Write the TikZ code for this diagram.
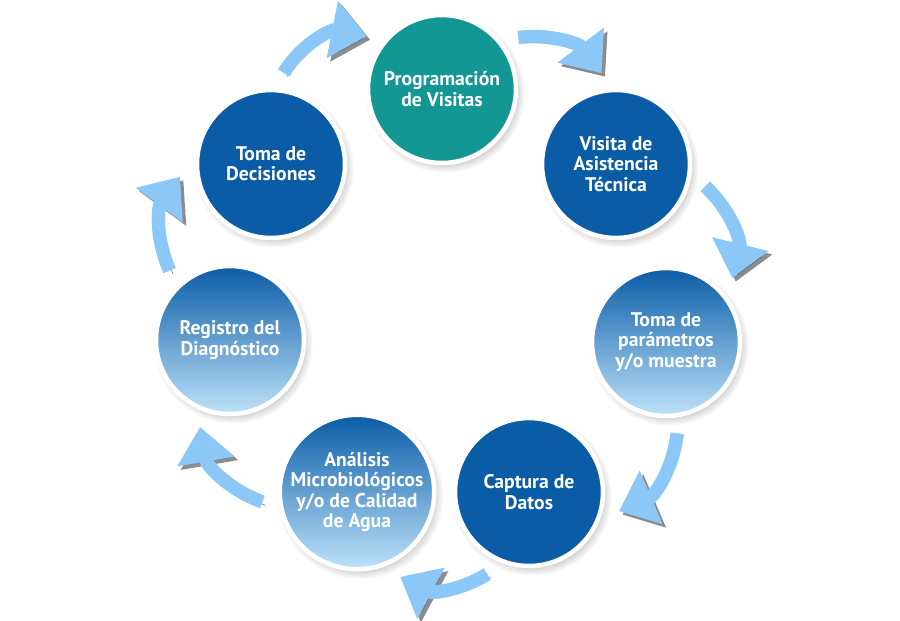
\documentclass[tikz,border=0pt]{standalone}
\usepackage{fontspec}
\setmainfont{PT Sans}
\usetikzlibrary{arrows.meta, shadows}

\definecolor{tealfill}{RGB}{18,151,148}
\definecolor{stageblue}{RGB}{10,92,166}
\definecolor{midblue}{RGB}{48,128,200}
\definecolor{paleblue}{RGB}{190,226,250}
\definecolor{arrowblue}{RGB}{140,200,247}

\begin{document}
\begin{tikzpicture}[
      x=0.02cm, y=-0.02cm,
      font=\fontsize{11.2}{11.6}\selectfont\bfseries,
      stage/.style={circle, draw=white, line width=0.09cm, minimum size=2.96cm, inner sep=0pt, outer sep=0.36cm, align=center, text=white, fill=stageblue,
        circular drop shadow={shadow xshift=1.5pt, shadow yshift=-2pt, shadow scale=1.08, opacity=0.45}},
      fade/.style={stage, top color=stageblue, middle color=midblue, bottom color=paleblue},
      flow/.style={draw=arrowblue, line width=0.27cm, -{Triangle[length=0.7cm, width=1.12cm]},
        preaction={draw=black, opacity=0.45, transform canvas={shift={(2pt,-2pt)}}}}
    ]
    \useasboundingbox (0,0) rectangle (900,620);

    \node[stage, fill=tealfill] (prog) at (442,89) {Programación\\de Visitas};
    \node[stage] (visita) at (616,164) {Visita de\\Asistencia\\Técnica};
    \node[fade] (param) at (666,342) {Toma de\\parámetros\\y/o muestra};
    \node[stage] (captura) at (529,492) {Captura de\\Datos};
    \node[fade] (analisis) at (357,492) {Análisis\\Microbiológicos\\y/o de Calidad\\de Agua};
    \node[fade] (registro) at (230,340) {Registro del\\Diagnóstico};
    \node[stage] (decision) at (271,164) {Toma de\\Decisiones};

    \draw[flow] (decision.82) to[bend left=35] (prog.145);
    \draw[flow] (prog.34) to[bend left=30] (visita.99);
    \draw[flow] (visita.-14) to[bend left=30] (param.44);
    \draw[flow] (param.-83) to[bend left=30] (captura.-12);
    \draw[flow] (captura.-117) to[bend left=30] (analisis.-63);
    \draw[flow] (analisis.186) to[bend left=30] (registro.251);
    \draw[flow] (registro.131) to[bend left=30] (decision.188);
  \end{tikzpicture}
\end{document}
